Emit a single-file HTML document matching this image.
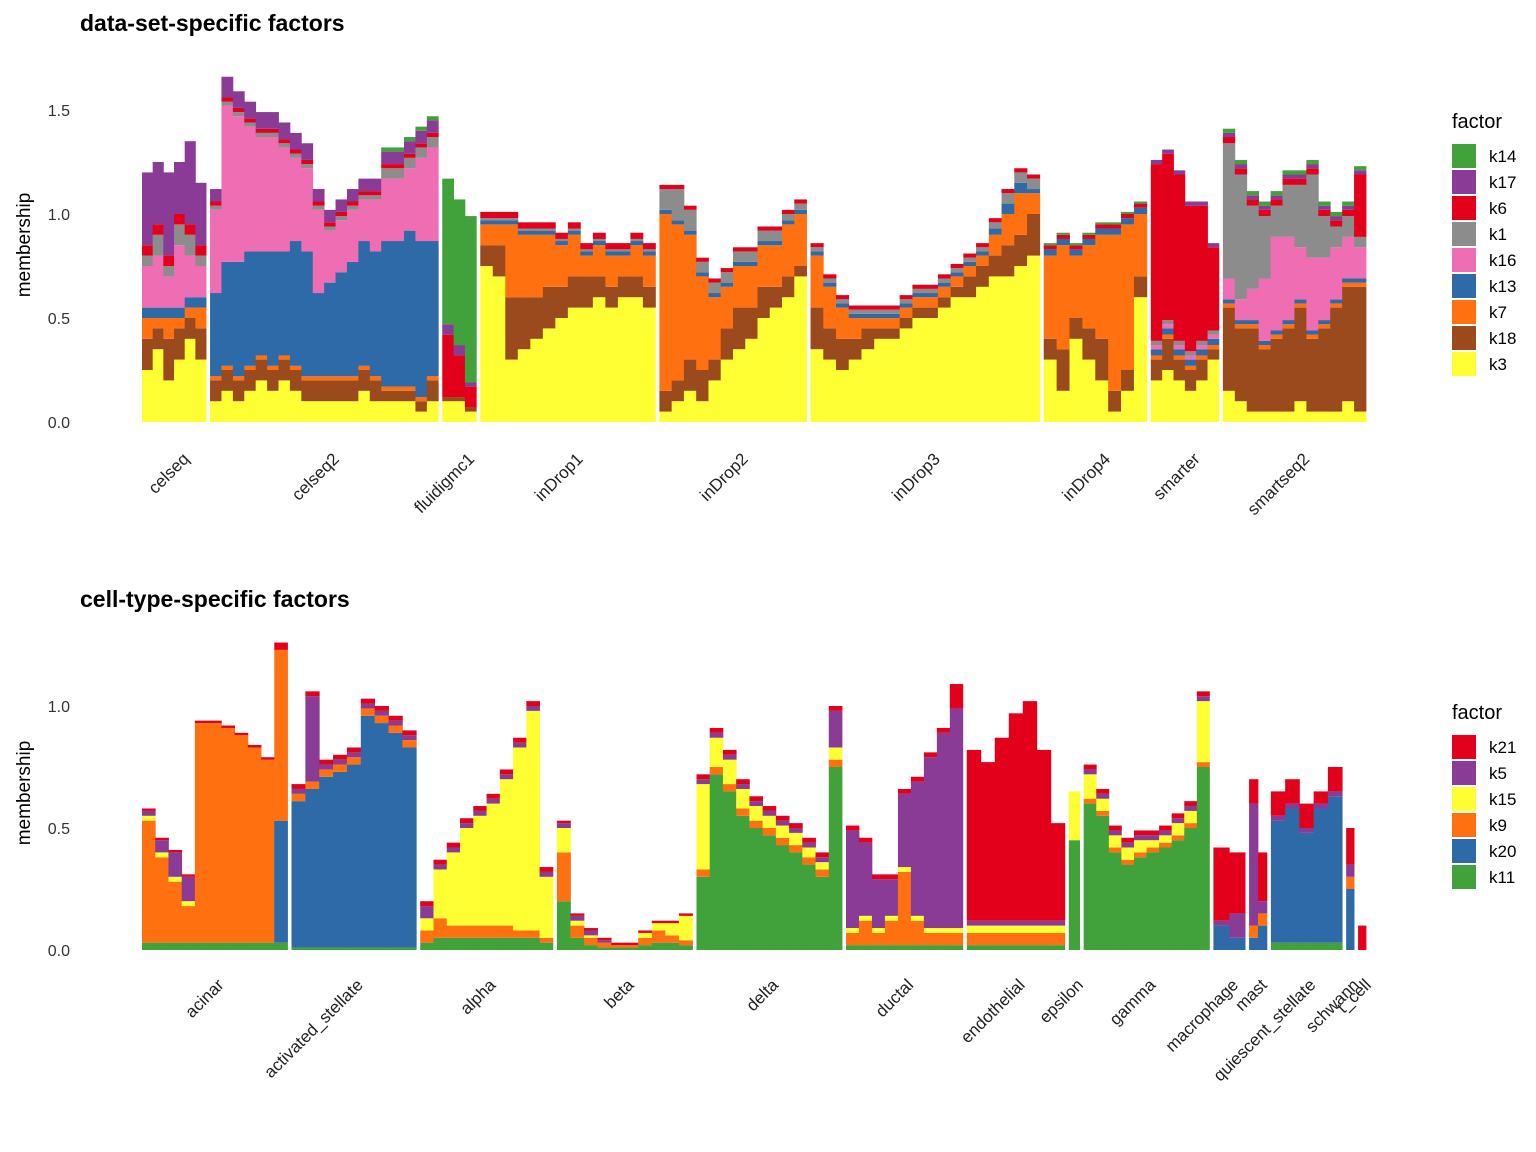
<!DOCTYPE html>
<html><head><meta charset="utf-8"><style>
html,body{margin:0;padding:0;background:#fff;}
svg{display:block;font-family:"Liberation Sans",Arial,sans-serif;}
</style></head><body>
<svg id="chart" width="1536" height="1152" viewBox="0 0 1536 1152">
<text x="80" y="31" font-size="23" font-weight="bold" fill="#000">data-set-specific factors</text>
<text x="80" y="607" font-size="23" font-weight="bold" fill="#000">cell-type-specific factors</text>
<text transform="translate(30,245) rotate(-90)" font-size="19" text-anchor="middle">membership</text>
<text transform="translate(30,793) rotate(-90)" font-size="19" text-anchor="middle">membership</text>
<g id="topBars"></g>
<g id="botBars"></g>
<g id="axes"></g>
<g id="legends"></g>
</svg>
<script>
// ---------- top panel data ----------
const topGroups = ['celseq','celseq2','fluidigmc1','inDrop1','inDrop2','inDrop3','inDrop4','smarter','smartseq2'];
const topCounts = [6,20,3,14,12,18,8,6,12];
const topFactors = ['k3','k18','k7','k13','k16','k1','k6','k17','k14'];
const topColors = ['#ffff33','#9b4a1e','#ff7010','#2e6aa8','#ef6db2','#8c8c8c','#e3001b','#8a3b96','#41a13a'];
const topLegendOrder = ['k14','k17','k6','k1','k16','k13','k7','k18','k3'];
const topTicks = [0,0.5,1.0,1.5];
const top_k3 = [.25,.35,.2,.3,.4,.3,
 .1,.15,.1,.15,.2,.15,.2,.15,.1,.1,.1,.1,.1,.15,.1,.1,.1,.1,.05,.1,
 .1,.1,.05,
 .75,.7,.3,.35,.4,.45,.5,.55,.55,.6,.55,.6,.6,.55,
 .05,.1,.15,.1,.2,.3,.35,.4,.5,.55,.6,.7,
 .35,.3,.25,.3,.35,.4,.4,.45,.5,.5,.55,.6,.6,.65,.7,.7,.75,.8,
 .3,.15,.4,.3,.2,.05,.15,.6,
 .2,.25,.2,.15,.2,.3,
 .15,.1,.05,.05,.05,.05,.1,.05,.05,.05,.1,.05];
const top_k18 = [.15,.1,.2,.15,.1,.15,
 .1,.1,.1,.1,.1,.1,.1,.1,.1,.1,.1,.1,.1,.1,.1,.05,.05,.05,.05,.1,
 .02,.02,.02,
 .1,.15,.3,.25,.2,.2,.15,.15,.15,.1,.1,.1,.1,.1,
 .1,.1,.15,.15,.1,.15,.2,.15,.15,.1,.1,.05,
 .2,.15,.15,.1,.1,.05,.05,.05,.05,.05,.05,.05,.1,.1,.1,.15,.15,.2,
 .1,.2,.1,.15,.2,.1,.1,.1,
 .1,.15,.1,.1,.1,.05,
 .4,.35,.4,.3,.35,.4,.45,.35,.4,.5,.55,.6];
const top_k7 = [.1,.05,.1,.05,.05,.1,
 .02,.02,.02,.02,.02,.02,.02,.02,.02,.02,.02,.02,.02,.02,.02,.02,.02,.02,.02,.02,
 0,0,0,
 .1,.1,.35,.3,.3,.25,.2,.2,.1,.15,.15,.1,.15,.15,
 .85,.75,.6,.45,.3,.2,.2,.2,.2,.2,.25,.25,
 .25,.2,.15,.1,.05,.05,.05,.05,.05,.05,.05,.05,.05,.05,.1,.15,.2,.1,
 .4,.5,.3,.4,.5,.75,.7,.3,
 .02,.02,.02,.02,.02,.02,
 .02,.02,.02,.02,.02,.02,.02,.02,.02,.02,.02,.02];
const top_k13 = [.05,.05,.05,.05,.05,.05,
 .4,.5,.55,.55,.5,.55,.5,.6,.6,.4,.45,.5,.55,.6,.6,.7,.7,.75,.75,.65,
 0,0,0,
 .02,.02,.02,.02,.02,.02,.02,.02,.02,.02,.02,.02,.02,.02,
 .02,.02,.02,.02,.02,.02,.02,.02,.02,.02,.02,.02,
 .02,.02,.02,.02,.02,.02,.02,.02,.02,.02,.02,.02,.02,.02,.03,.05,.05,.02,
 .03,.03,.03,.03,.03,.03,.03,.03,
 .03,.03,.03,.03,.03,.03,
 .02,.02,.02,.02,.02,.02,.02,.02,.02,.02,.02,.02];
const top_k16 = [.2,.25,.15,.3,.2,.15,
 .4,.75,.7,.6,.55,.55,.5,.4,.4,.4,.25,.25,.25,.2,.25,.3,.3,.3,.4,.45,
 0,0,0,
 0,0,0,0,0,0,0,0,0,0,0,0,0,0,
 0,0,0,0,0,0,0,0,0,0,0,0,
 0,0,0,0,0,0,0,0,0,0,0,0,0,0,0,0,0,0,
 0,0,0,0,0,0,0,0,
 .02,.02,.02,.02,.02,.02,
 .1,.1,.15,.3,.45,.4,.25,.35,.3,.25,.2,.15];
const top_k1 = [.05,.1,.05,.1,.1,.05,
 .02,.02,.02,.02,.02,.02,.02,.02,.02,.02,.02,.02,.02,.02,.02,.05,.05,.05,.05,.05,
 0,0,0,
 .01,.01,.01,.01,.01,.01,.01,.01,.01,.01,.01,.01,.01,.01,
 .1,.15,.1,.05,.05,.05,.05,.05,.05,.05,.03,.03,
 .02,.02,.02,.02,.02,.02,.02,.02,.02,.02,.02,.02,.02,.02,.03,.05,.05,.05,
 0,0,0,0,0,0,0,0,
 .02,.02,.02,.02,.02,.02,
 .65,.6,.4,.3,.15,.25,.3,.4,.2,.1,.1,.05];
const top_k6 = [.05,.05,.05,.05,.05,.05,
 .02,.02,.02,.02,.02,.02,.02,.02,.02,.02,.02,.02,.02,.02,.02,.02,.02,.02,.02,.02,
 .3,.2,.1,
 .03,.03,.03,.03,.03,.03,.03,.03,.03,.03,.03,.03,.03,.03,
 .02,.02,.02,.02,.02,.02,.02,.02,.02,.02,.02,.02,
 .02,.02,.02,.02,.02,.02,.02,.02,.02,.02,.02,.02,.02,.02,.02,.02,.02,.02,
 .02,.02,.02,.02,.02,.02,.02,.02,
 .85,.8,.8,.7,.65,.4,
 .03,.03,.03,.03,.03,.03,.03,.03,.03,.03,.03,.3];
const top_k17 = [.35,.3,.4,.25,.4,.3,
 .06,.1,.08,.08,.08,.08,.08,.08,.08,.06,.06,.06,.06,.06,.06,.06,.06,.06,.06,.06,
 .05,.05,.02,
 0,0,0,0,0,0,0,0,0,0,0,0,0,0,
 0,0,0,0,0,0,0,0,0,0,0,0,
 0,0,0,0,0,0,0,0,0,0,0,0,0,0,0,0,0,0,
 0,0,0,0,0,0,0,0,
 .02,.02,.02,.02,.02,.02,
 .02,.02,.02,.02,.02,.02,.02,.02,.02,.02,.02,.02];
const top_k14 = [0,0,0,0,0,0,
 0,0,0,0,0,0,0,0,0,0,0,0,0,0,0,.02,.02,.02,.02,.02,
 .7,.7,.8,
 0,0,0,0,0,0,0,0,0,0,0,0,0,0,
 0,0,0,0,0,0,0,0,0,0,0,0,
 0,0,0,0,0,0,0,0,0,0,0,0,0,0,0,0,0,0,
 .01,.01,.01,.01,.01,.01,.01,.01,
 0,0,0,0,0,0,
 .02,.02,.02,.02,.02,.02,.02,.02,.02,.02,.02,.02];

// ---------- bottom panel data ----------
const botGroups = ['acinar','activated_stellate','alpha','beta','delta','ductal','endothelial','epsilon','gamma','macrophage','mast','quiescent_stellate','schwann','t_cell'];
const botCounts = [11,9,10,10,11,9,7,1,10,2,2,5,1,1];
const botFactors = ['k11','k20','k9','k15','k5','k21'];
const botColors = ['#41a13a','#2e6aa8','#ff7010','#ffff33','#8a3b96','#e3001b'];
const botLegendOrder = ['k21','k5','k15','k9','k20','k11'];
const botTicks = [0,0.5,1.0];
const bot_k11 = [.03,.03,.03,.03,.03,.03,.03,.03,.03,.03,.03,
 .01,.01,.01,.01,.01,.01,.01,.01,.01,
 .03,.05,.05,.05,.05,.05,.05,.05,.05,.03,
 .2,.05,.02,.01,.01,.01,.02,.03,.03,.02,
 .3,.72,.65,.55,.5,.47,.43,.4,.35,.3,.75,
 .02,.02,.02,.02,.02,.02,.02,.02,.02,
 .02,.02,.02,.02,.02,.02,.02,
 .45,
 .6,.55,.4,.35,.38,.4,.42,.45,.5,.75,
 0,0, 0,0,
 .03,.03,.03,.03,.03,
 0,0];
const bot_k20 = [0,0,0,0,0,0,0,0,0,0,.5,
 .6,.65,.7,.72,.75,.95,.92,.88,.82,
 0,0,0,0,0,0,0,0,0,0,
 0,0,0,0,0,0,0,0,0,0,
 0,0,0,0,0,0,0,0,0,0,0,
 0,0,0,0,0,0,0,0,0,
 0,0,0,0,0,0,0,
 0,
 0,0,0,0,0,0,0,0,0,0,
 .1,.05, .05,.1,
 .5,.55,.45,.55,.6,
 .25,0];
const bot_k9 = [.5,.35,.25,.15,.9,.9,.88,.85,.8,.75,.7,
 .03,.03,.03,.03,.03,.03,.03,.03,.03,
 .05,.08,.05,.05,.05,.05,.05,.03,.03,.02,
 .2,.05,.03,.02,.01,.01,.03,.05,.03,.02,
 .03,.03,.03,.03,.03,.03,.03,.03,.03,.03,.03,
 .05,.1,.05,.1,.3,.1,.05,.05,.05,
 .05,.05,.05,.05,.05,.05,.05,
 0,
 .02,.02,.02,.02,.02,.02,.02,.02,.02,.02,
 0,0, .05,.05,
 0,0,0,0,0,
 .05,0];
const bot_k15 = [.02,.02,.02,.02,0,0,0,0,0,0,0,
 0,0,0,0,0,0,0,0,0,
 .05,.2,.3,.4,.45,.5,.6,.75,.9,.25,
 .1,.02,.01,0,0,0,.02,.03,.05,.1,
 .35,.12,.1,.08,.06,.05,.05,.05,.04,.03,.05,
 .02,.02,.02,.02,.02,.02,.02,.02,.02,
 .03,.03,.03,.03,.03,.03,.03,
 .2,
 .1,.05,.05,.05,.05,.03,.03,.05,.05,.25,
 0,0, 0,0,
 0,0,0,0,0,
 0,0];
const bot_k5 = [.02,.05,.1,.1,0,0,0,0,0,0,0,
 .02,.35,.02,.02,.02,.02,.02,.02,.02,
 .05,.02,.02,.02,.02,.02,.02,.02,.02,.02,
 .02,.02,.02,.01,0,0,0,0,0,0,
 .02,.02,.02,.02,.02,.02,.02,.02,.02,.02,.15,
 .4,.3,.2,.15,.3,.55,.7,.8,.9,
 .02,.02,.02,.02,.02,.02,.02,
 0,
 .02,.02,.02,.02,.02,.02,.02,.02,.02,.02,
 .02,.1, .5,.05,
 .02,.02,.02,.02,.02,
 .05,0];
const bot_k21 = [.01,.01,.01,.01,.01,.01,.01,.01,.01,.01,.03,
 .02,.02,.02,.02,.02,.02,.02,.02,.02,
 .02,.02,.02,.02,.02,.02,.02,.02,.02,.02,
 .01,.01,.01,.01,.01,.01,.01,.01,.01,.01,
 .02,.02,.02,.02,.02,.02,.02,.02,.02,.02,.02,
 .02,.02,.02,.02,.02,.02,.02,.02,.1,
 .7,.65,.75,.85,.9,.7,.4,
 0,
 .02,.02,.02,.02,.02,.02,.02,.02,.02,.02,
 .3,.25, .1,.2,
 .1,.1,.1,.05,.1,
 .15,.1];

// layout: relative pixel span of each group (not data)
const topSpanLayout = [64,228,34,175,147,229,103,68,143];
const botSpanLayout = [147,126,134,137,147,118,99,11,127,32,18,72,8,8];

const NS='http://www.w3.org/2000/svg';
const X0=142, X1=1366, GAP=4;
function mk(tag,attrs,parent){const e=document.createElementNS(NS,tag);for(const k in attrs)e.setAttribute(k,attrs[k]);parent.appendChild(e);return e;}

function drawPanel(gEl, groups, counts, spans, factorArrays, colors, factors, y0, unit, ticks, labY, labOff, prefix){
  const spanTotal=spans.reduce((a,b)=>a+b,0);
  const avail=X1-X0-GAP*(groups.length-1);
  const yScale=v=>y0-v*unit;
  let idx=0, x=X0;
  const axes=document.getElementById('axes');
  groups.forEach((gname,gi)=>{
    const gStart=x;
    const gw=spans[gi]/spanTotal*avail;
    const bw=gw/counts[gi];
    for(let j=0;j<counts[gi];j++){
      let acc=0;
      factorArrays.forEach((arr,fi)=>{
        const v=arr[idx]||0;
        if(v>0){
          const r=mk('rect',{x:x.toFixed(2),y:yScale(acc+v).toFixed(2),width:(bw+0.4).toFixed(2),height:(v*unit).toFixed(2),fill:colors[fi]},gEl);
          
          
        }
        acc+=v;
      });
      x+=bw; idx++;
    }
    const cx=(gStart+x)/2;
    const t=mk('text',{transform:`translate(${(cx+labOff).toFixed(1)},${labY}) rotate(-45)`,'text-anchor':'end','font-size':'17',fill:'#222'},axes);
    t.textContent=gname;
    
    
    x+=GAP;
  });
  ticks.forEach(tv=>{
    const t=mk('text',{x:70,y:(yScale(tv)+6).toFixed(1),'text-anchor':'end','font-size':'16',fill:'#333'},axes);
    t.textContent=tv.toFixed(1);
    
    
  });
}
drawPanel(document.getElementById('topBars'),topGroups,topCounts,topSpanLayout,
  [top_k3,top_k18,top_k7,top_k13,top_k16,top_k1,top_k6,top_k17,top_k14],topColors,topFactors,422,208,topTicks,460,16,'top');
drawPanel(document.getElementById('botBars'),botGroups,botCounts,botSpanLayout,
  [bot_k11,bot_k20,bot_k9,bot_k15,bot_k5,bot_k21],botColors,botFactors,950,244,botTicks,986,10,'bottom');

function legend(order, factors, colors, titleY, prefix){
  const lg=document.getElementById('legends');
  const t=mk('text',{x:1452,y:titleY,'font-size':'20',fill:'#000'},lg);
  t.textContent='factor';
  
  
  order.forEach((f,i)=>{
    const c=colors[factors.indexOf(f)];
    const y=titleY+16+i*26;
    const r=mk('rect',{x:1452,y:y,width:24,height:24,fill:c},lg);
    
    
    const l=mk('text',{x:1489,y:y+18,'font-size':'17',fill:'#000'},lg);
    l.textContent=f;
    
    
  });
}
legend(topLegendOrder,topFactors,topColors,128,'top');
legend(botLegendOrder,botFactors,botColors,719,'bottom');
</script>
</body></html>
